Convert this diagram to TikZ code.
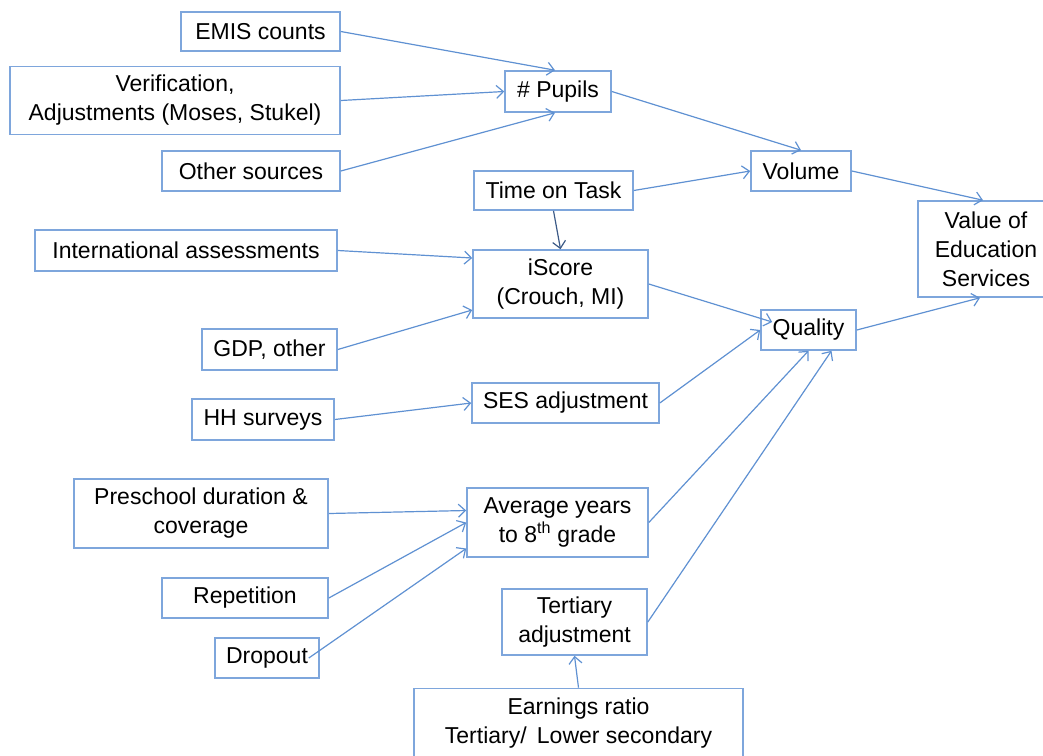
\documentclass[tikz,border=0pt]{standalone}
\usepackage{fontspec}
\setmainfont{Liberation Sans}
\usetikzlibrary{arrows.meta}

\definecolor{boxblue}{RGB}{126,166,220}
\definecolor{arrowblue}{RGB}{95,145,210}
\definecolor{darkarrow}{RGB}{60,90,135}

\begin{document}
\begin{tikzpicture}[x=1pt, y=-1pt,
    >={Straight Barb[length=7pt,width=13pt]},
    box/.style 2 args={draw=boxblue, line width=1.6pt, align=center, inner sep=0pt,
        minimum width=#1, minimum height=#2,
        font=\fontsize{23}{29}\selectfont},
    link/.style={->, arrowblue, line width=1.2pt}]

    \useasboundingbox (0,0) rectangle (1043,755);

    % sources
    \node[box={159pt}{39pt}] (emis) at (260.5,31.5) {EMIS counts};
    \node[box={330pt}{68pt}] (verif) at (175,100.5) {Verification,\\Adjustments (Moses, Stukel)};
    \node[box={178pt}{40pt}] (other) at (251,171) {Other sources};
    \node[box={302pt}{41pt}] (intl) at (186,250.5) {International assessments};
    \node[box={135pt}{41pt}] (gdp) at (269.5,349.5) {GDP, other};
    \node[box={142pt}{41pt}] (hh) at (263,419.5) {HH surveys};
    \node[box={254pt}{69pt}] (pre) at (201,513.5) {Preschool duration \&\\coverage};
    \node[box={166pt}{40pt}] (rep) at (245,598) {Repetition};
    \node[box={104pt}{40pt}] (drop) at (267,658) {Dropout};
    \node[box={329pt}{69pt}] (earn) at (578.5,723) {Earnings ratio\\Tertiary/\, Lower secondary};

    % middle
    \node[box={106pt}{41pt}] (pupils) at (558,91.5) {\# Pupils};
    \node[box={159pt}{39pt}] (time) at (553.5,190.5) {Time on Task};
    \node[box={175pt}{68pt}] (iscore) at (560.5,284) {iScore\\(Crouch, MI)};
    \node[box={187pt}{40pt}] (ses) at (565.5,403) {SES adjustment};
    \node[box={181pt}{69pt}] (avg) at (557.5,522.5) {Average years\\to 8\textsuperscript{th} grade};
    \node[box={145pt}{66pt}] (tert) at (574.5,622) {Tertiary\\adjustment};

    % right
    \node[box={100pt}{40pt}] (volume) at (801,171) {Volume};
    \node[box={95pt}{40pt}] (quality) at (808.5,330) {Quality};
    \node[box={136pt}{96pt}] (value) at (986,249) {Value of\\Education\\Services};

    % arrows
    \draw[link] (emis.east) -- ([xshift=-3pt]pupils.north);
    \draw[link] (verif.east) -- (pupils.west);
    \draw[link] (other.east) -- ([xshift=-3pt]pupils.south);
    \draw[link] (pupils.east) -- (volume.north);
    \draw[link] (time.east) -- (volume.west);
    \draw[->, darkarrow, line width=1.2pt] (time.south) -- (iscore.north);
    \draw[link] (volume.east) -- ([xshift=-3pt]value.north);
    \draw[link] (intl.east) -- ([yshift=26pt]iscore.west);
    \draw[link] (gdp.east) -- ([yshift=-26pt]iscore.west);
    \draw[link] (hh.east) -- (ses.west);
    \draw[link] (iscore.east) -- ([shift={(12pt,8pt)}]quality.west);
    \draw[link] (ses.east) -- (quality.west);
    \draw[link] (avg.east) -- (quality.south);
    \draw[link] (tert.east) -- ([xshift=23pt]quality.south);
    \draw[link] (quality.east) -- ([xshift=-6pt]value.south);
    \draw[link] (pre.east) -- ([yshift=12pt]avg.west);
    \draw[link] (rep.east) -- (avg.west);
    \draw[link] ([xshift=-11pt]drop.east) -- ([yshift=-26pt]avg.west);
    \draw[link] (earn.north) -- (tert.south);
\end{tikzpicture}
\end{document}
